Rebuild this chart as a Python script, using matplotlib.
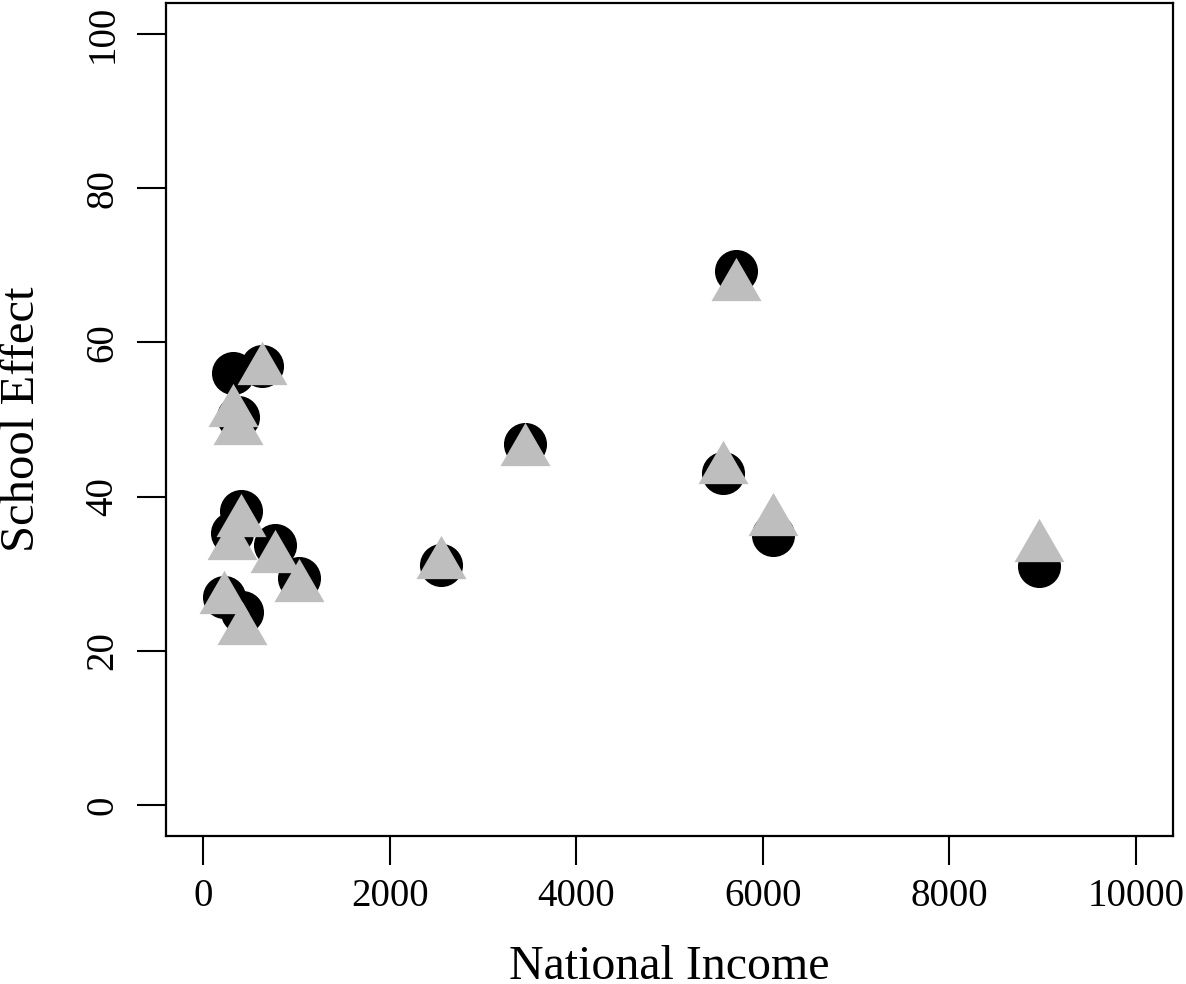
import matplotlib
matplotlib.use("Agg")
import matplotlib.pyplot as plt

income = [320, 630, 370, 400, 310, 772, 1025, 225, 420, 2554, 3450, 5710, 5575, 6110, 8960]
effect_circle = [56.0, 57.0, 50.3, 38.2, 35.3, 33.7, 29.5, 27.0, 25.0, 31.2, 46.8, 69.2, 43.0, 35.0, 31.0]
effect_triangle = [51.9, 57.3, 49.5, 37.6, 34.6, 33.0, 29.2, 27.6, 23.6, 32.2, 46.8, 68.2, 44.5, 37.7, 34.4]
xticks = [0, 2000, 4000, 6000, 8000, 10000]
yticks = [0, 20, 40, 60, 80, 100]

plt.rcParams['font.family'] = ['Liberation Serif', 'DejaVu Serif']

fig = plt.figure(figsize=(11.86, 9.84), dpi=100)
ax = fig.add_axes([166/1186, (984-836)/984, (1173-166)/1186, (836-3)/984])

tri = [(-1, -0.866), (1, -0.866), (0, 0.866)]
ax.plot(income, effect_circle, linestyle='none', marker='o', ms=31,
        color='black', markeredgewidth=0)
ax.plot(income, effect_triangle, linestyle='none', marker=tri, ms=36,
        color='#BEBEBE', markeredgewidth=0)

ax.set_xlim(-400, 10400)
ax.set_ylim(-4, 104)
ax.set_xticks(xticks)
ax.set_yticks(yticks)
ax.set_xticklabels([str(v) for v in xticks], fontsize=28)
ax.set_yticklabels([str(v) for v in yticks], fontsize=28, rotation=90, va='center')
ax.tick_params(axis='both', length=21, width=1.5, direction='out')
ax.tick_params(axis='x', pad=9)
ax.tick_params(axis='y', pad=11)
for s in ax.spines.values():
    s.set_linewidth(1.6)

ax.set_xlabel('National Income', fontsize=34.5)
ax.set_ylabel('School Effect', fontsize=35)
ax.xaxis.set_label_coords(0.5, -0.131)
ax.yaxis.set_label_coords(-0.1215, 0.5)

fig.savefig('out.png', dpi=100)
